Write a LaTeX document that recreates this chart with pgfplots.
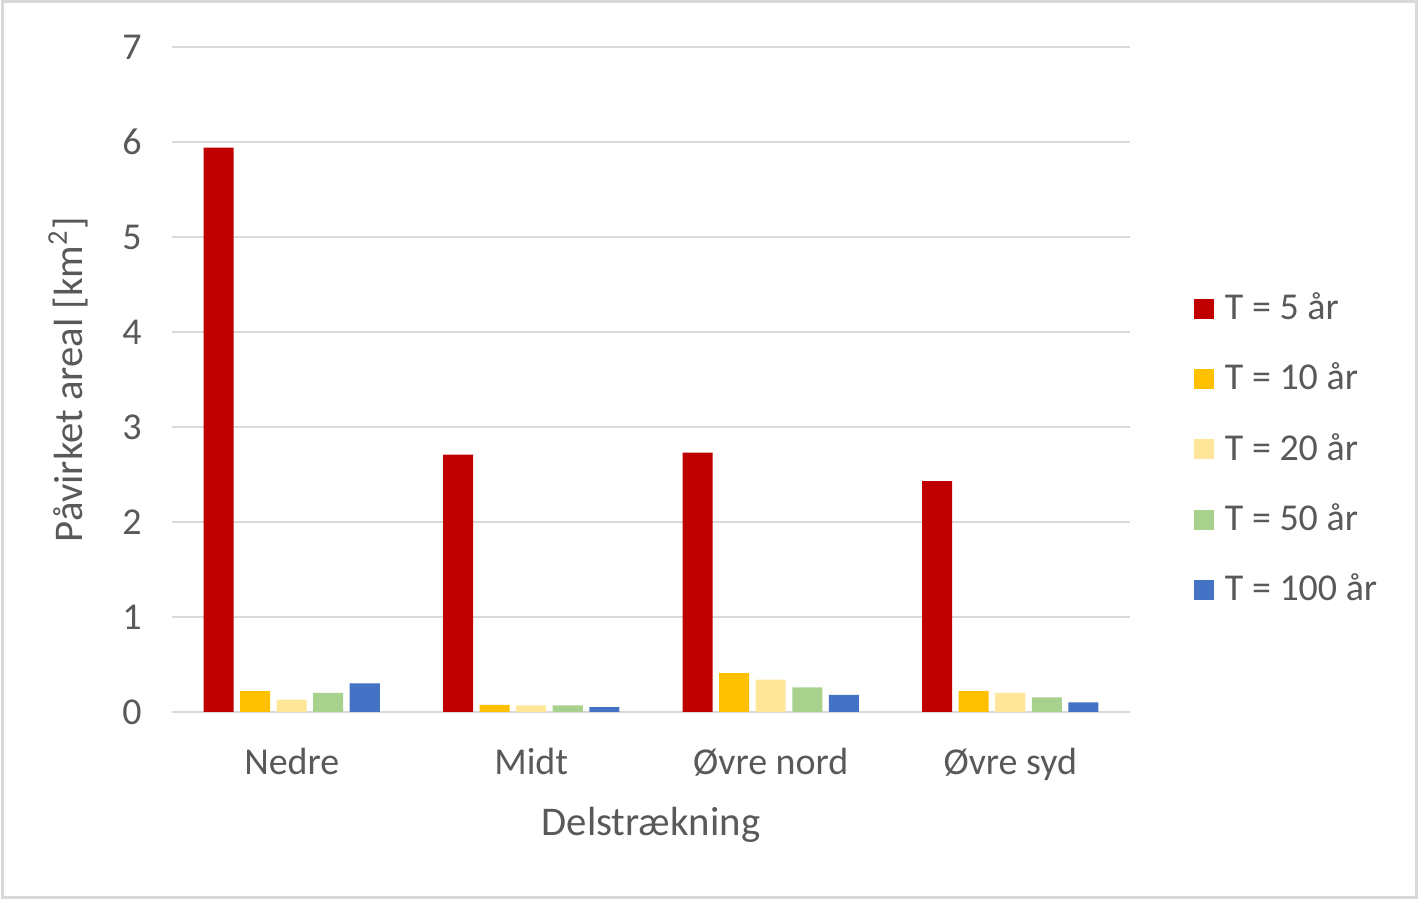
\documentclass[border=0pt]{standalone}
\usepackage{fontspec}
\setmainfont{Carlito}
\usepackage{pgfplots}
\pgfplotsset{compat=1.18}
\definecolor{cRed}{HTML}{C00000}
\definecolor{cYel}{HTML}{FFC000}
\definecolor{cLYel}{HTML}{FFE699}
\definecolor{cGrn}{HTML}{A9D18E}
\definecolor{cBlu}{HTML}{4472C4}
\definecolor{cTxt}{HTML}{595959}
\definecolor{cGrid}{HTML}{D9D9D9}
\begin{document}
\begin{tikzpicture}
\useasboundingbox (0,0) rectangle (14.19cm,9.01cm);
\draw[cGrid, line width=0.03cm] (0.02cm,0.03cm) rectangle (14.16cm,8.99cm);
\begin{axis}[
  at={(1.72cm,1.89cm)}, anchor=south west,
  width=9.58cm, height=6.65cm, scale only axis,
  xmin=-0.5, xmax=3.5, ymin=0, ymax=7,
  ybar=0.065cm, bar width=0.30cm,
  xtick={0,1,2,3},
  xticklabels={Nedre, Midt, Øvre nord, Øvre syd},
  ytick={0,1,2,3,4,5,6,7},
  /pgf/number format/assume math mode=true,
  axis x line*=bottom,
  axis y line*=left,
  x axis line style={cGrid, line width=0.028cm, -},
  y axis line style={draw=none},
  major tick length=0pt,
  ymajorgrids, grid style={cGrid, line width=0.028cm},
  tick label style={font=\fontsize{10.8}{12}\selectfont, text=cTxt},
  yticklabel style={xshift=-0.18cm},
  xticklabel style={yshift=-0.24cm},
  xlabel={Delstrækning},
  ylabel={Påvirket areal [km\textsuperscript{2}]},
  label style={font=\fontsize{11.6}{13}\selectfont, text=cTxt},
  xlabel style={at={(axis description cs:0.5,-0.17)}, anchor=center},
  ylabel style={at={(axis description cs:-0.1086,0.5)}, anchor=center},
  legend style={at={(axis description cs:1.055,0.395)}, anchor=west, draw=none,
    font=\fontsize{10.8}{12}\selectfont, text=cTxt, row sep=0.24cm, fill=none},
  legend cell align=left,
  legend image code/.code={\fill[#1] (0cm,-0.1cm) rectangle (0.2cm,0.1cm); \path (0.24cm,0);},
  enlarge x limits=false,
]
\addplot[fill=cRed, draw=none] coordinates {(0,5.94) (1,2.71) (2,2.73) (3,2.43)};
\addplot[fill=cYel, draw=none] coordinates {(0,0.22) (1,0.075) (2,0.41) (3,0.22)};
\addplot[fill=cLYel, draw=none] coordinates {(0,0.13) (1,0.07) (2,0.34) (3,0.20)};
\addplot[fill=cGrn, draw=none] coordinates {(0,0.20) (1,0.07) (2,0.26) (3,0.155)};
\addplot[fill=cBlu, draw=none] coordinates {(0,0.30) (1,0.05) (2,0.18) (3,0.10)};
\legend{T = 5 år, T = 10 år, T = 20 år, T = 50 år, T = 100 år}
\end{axis}
\end{tikzpicture}
\end{document}
